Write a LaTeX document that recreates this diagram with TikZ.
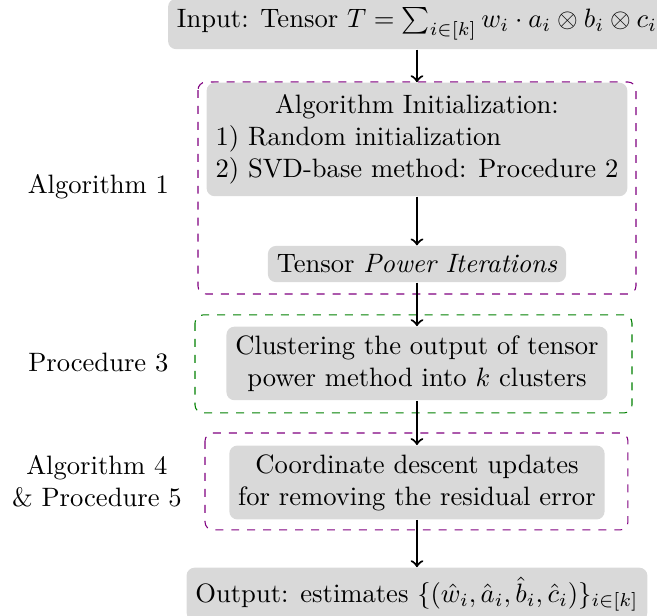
\documentclass[tikz,border=0pt]{standalone}
\usepackage{xcolor}
\usepackage{amsmath}
\usepackage{tikz}
\usetikzlibrary{positioning, arrows}
\definecolor{boxgray}{rgb}{0.85, 0.85, 0.85}
\definecolor{framepurple}{rgb}{0.5, 0.0, 0.5}
\definecolor{framegreen}{rgb}{0.0, 0.5, 0.0}

\begin{document}
\begin{tikzpicture}[
	stagebox/.style={fill=boxgray, rounded corners=3pt, align=center},
	groupframe/.style={dashed, rounded corners=3pt},
	sidelabel/.style={align=center}]
			\useasboundingbox (0,0) rectangle (8.682,-8.127);
			%% dashed groups
			\draw [groupframe, framepurple] (2.616,-1.084) rectangle (8.404,-3.885);
			\draw [groupframe, framegreen] (2.577,-4.162) rectangle (8.351,-5.457);
			\draw [groupframe, framepurple] (2.709,-5.722) rectangle (8.298,-7.003);
			
			\node[stagebox] (input) at (5.51, -0.317) {Input: Tensor $T=\sum_{i\in[k]} w_i\cdot a_i\otimes b_i\otimes c_i$};
			\node[stagebox] (init) at (5.51, -1.843) {\begin{tabular}{@{}l@{}}
					\multicolumn{1}{@{}c@{}}{Algorithm Initialization:}\\
					1) Random initialization\\
					2) SVD-base method: Procedure 2
				\end{tabular}};
			\node[stagebox] (power) at (5.51, -3.489) {Tensor \textit{Power Iterations}};
			\node[stagebox] (cluster) at (5.51, -4.803) {Clustering the output of tensor\\ power method into $k$ clusters};
			\node[stagebox] (coord) at (5.51, -6.376) {Coordinate descent updates\\ for removing the residual error};
			\node[stagebox] (output) at (5.51, -7.85) {Output: estimates $\{(\hat{w}_i,\hat{a}_i,\hat{b}_i,\hat{c}_i)\}_{i\in[k]}$};
			
			\node[sidelabel] (alg1) at (1.30, -2.471) {Algorithm 1};
			\node[sidelabel] (proc3) at (1.30, -4.797) {Procedure 3};
			\node[sidelabel] (alg4) at (1.28, -6.356) {Algorithm 4\\ \& Procedure 5};
			
			\draw [->, thick] (input) -- (init);
			\draw [->, thick] (init) -- (power);
			\draw [->, thick] (power) -- (cluster);
			\draw [->, thick] (cluster) -- (coord);
			\draw [->, thick] (coord) -- (output);
			\end{tikzpicture}
\end{document}
